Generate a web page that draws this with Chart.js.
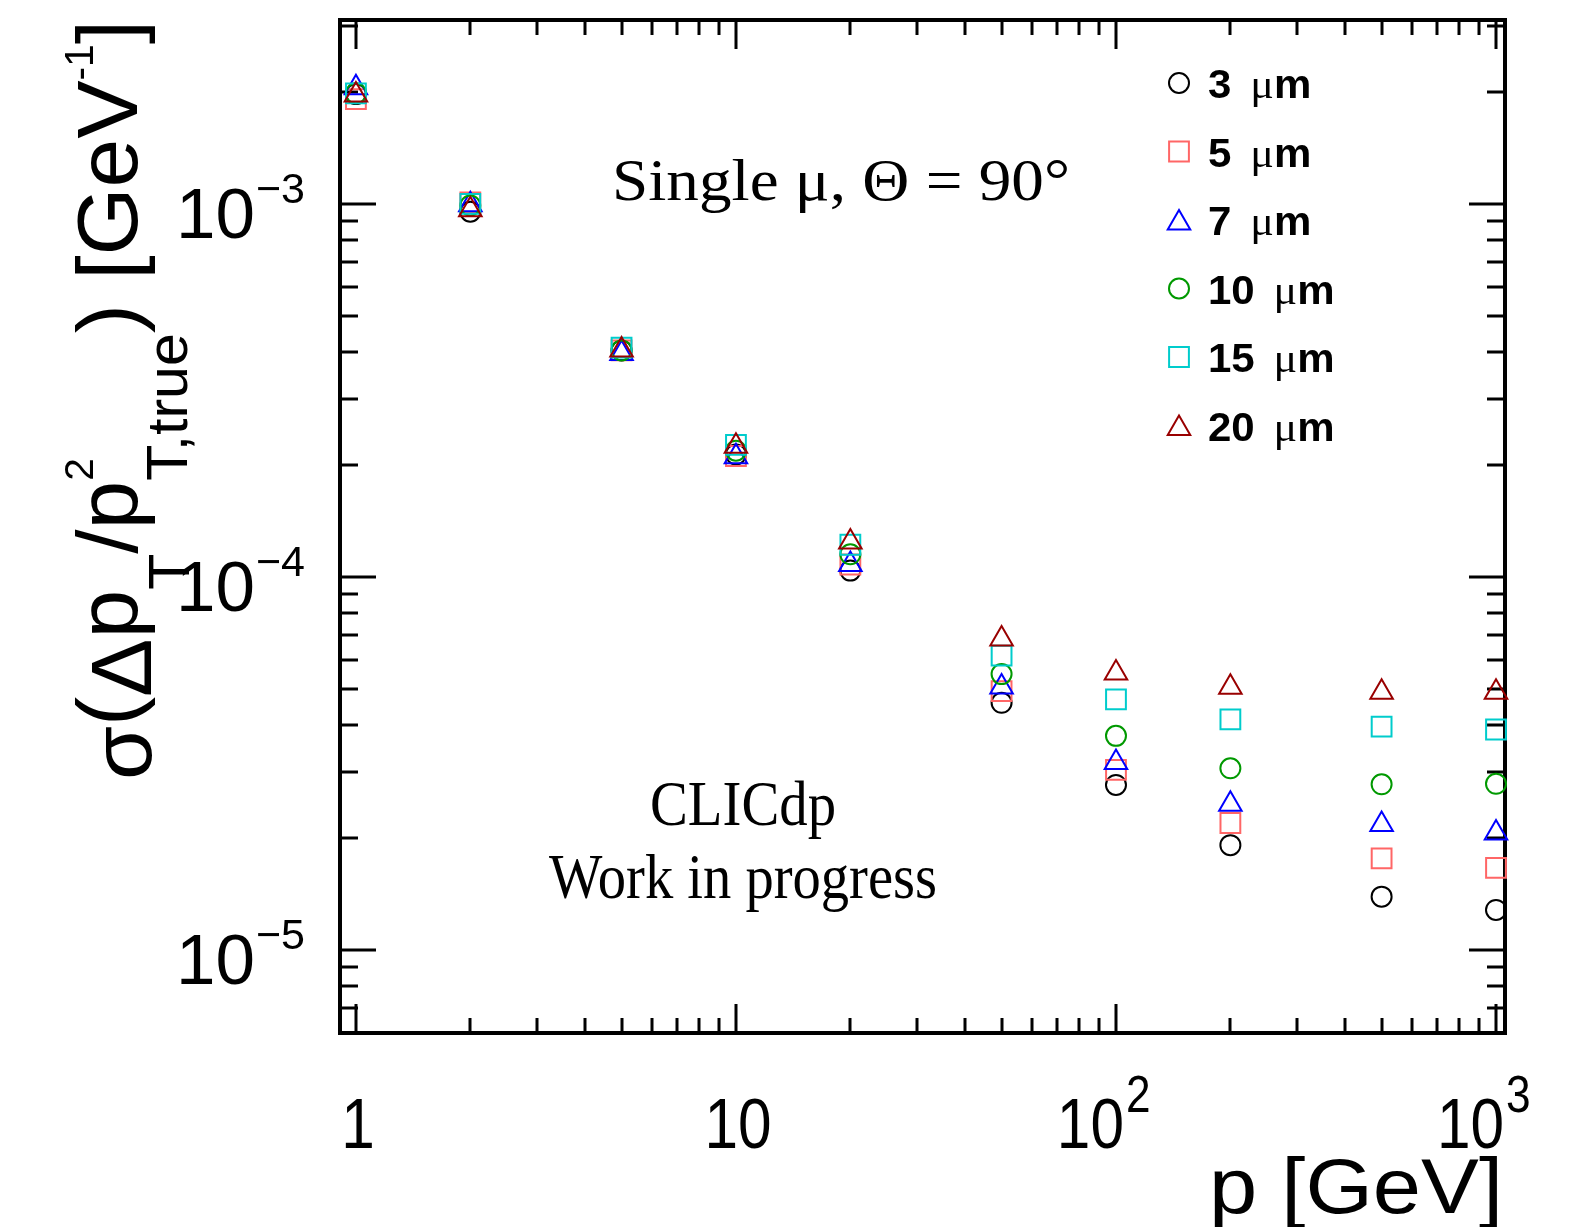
<!DOCTYPE html>
<html>
<head>
<meta charset="utf-8">
<script src="https://cdn.jsdelivr.net/npm/chart.js@4.4.0/dist/chart.umd.min.js"></script>
<style>
  html, body { margin: 0; padding: 0; background: #fff; }
  canvas { display: block; }
</style>
</head>
<body>
<canvas id="resChart" width="1579" height="1227"></canvas>
<script>
// momentum points [GeV]
const momenta = [1, 2, 5, 10, 20, 50, 100, 200, 500, 1000];

// sigma(dpT/pT^2) [1/GeV] per single point resolution
const res3um  = [1.97e-3, 0.953e-3, 4.05e-4, 2.13e-4, 1.04e-4, 4.60e-5, 2.77e-5, 1.91e-5, 1.39e-5, 1.28e-5];
const res5um  = [1.91e-3, 1.01e-3, 4.05e-4, 2.11e-4, 1.08e-4, 4.94e-5, 3.04e-5, 2.19e-5, 1.76e-5, 1.66e-5];
const res7um  = [2.05e-3, 0.995e-3, 3.97e-4, 2.10e-4, 1.08e-4, 5.07e-5, 3.18e-5, 2.46e-5, 2.17e-5, 2.06e-5];
const res10um = [1.98e-3, 0.99e-3, 4.05e-4, 2.18e-4, 1.15e-4, 5.49e-5, 3.75e-5, 3.07e-5, 2.78e-5, 2.79e-5];
const res15um = [1.98e-3, 1.00e-3, 4.12e-4, 2.26e-4, 1.22e-4, 6.15e-5, 4.70e-5, 4.15e-5, 3.97e-5, 3.90e-5];
const res20um = [1.96e-3, 0.965e-3, 4.06e-4, 2.24e-4, 1.24e-4, 6.82e-5, 5.53e-5, 5.06e-5, 4.91e-5, 4.91e-5];

const seriesLabels = ['3', '5', '7', '10', '15', '20'];
const seriesValues = [res3um, res5um, res7um, res10um, res15um, res20um];

// tick labels
const xTickValues = [1, 10, 100, 1000];
const xTickBase = ['1', '10', '10', '10'];
const xTickExp = ['', '', '2', '3'];
const yTickExps = [-3, -4, -5];

const colors = ['#000000', '#ff6666', '#0000ff', '#009900', '#00cccc', '#990000'];
const shapes = ['circle', 'rect', 'triangle', 'circle', 'rect', 'triangle'];
const radii = { circle: 10, rect: 14, triangle: 13 };

const SANS = '"Liberation Sans", Arial, Helvetica, sans-serif';
const SERIF = '"Liberation Serif", "Times New Roman", serif';

function drawFit(ctx, text, x, y, font, width, align) {
  ctx.save();
  ctx.font = font;
  const w = ctx.measureText(text).width;
  ctx.translate(x, y);
  ctx.scale(width / w, 1);
  ctx.textAlign = align;
  ctx.textBaseline = 'alphabetic';
  ctx.fillText(text, 0, 0);
  ctx.restore();
}

function drawScaled(ctx, text, x, y, font, sx, align) {
  ctx.save();
  ctx.font = font;
  ctx.translate(x, y);
  ctx.scale(sx, 1);
  ctx.textAlign = align;
  ctx.textBaseline = 'alphabetic';
  ctx.fillText(text, 0, 0);
  const w = ctx.measureText(text).width * sx;
  ctx.restore();
  return w;
}

const framePlugin = {
  id: 'rootFrame',
  beforeDatasetsDraw(chart) {
    const ctx = chart.ctx;
    const a = chart.chartArea;
    const xs = chart.scales.x, ys = chart.scales.y;
    ctx.save();
    ctx.strokeStyle = '#000';
    ctx.lineWidth = 3;
    ctx.lineCap = 'butt';
    // y ticks on both sides
    for (let k = -6; k <= -2; k++) {
      for (let m = 1; m <= 9; m++) {
        const v = m * Math.pow(10, k);
        if (v < ys.min || v > ys.max) continue;
        const py = Math.round(ys.getPixelForValue(v));
        const len = m === 1 ? 36 : 18;
        ctx.beginPath();
        ctx.moveTo(a.left, py); ctx.lineTo(a.left + len, py);
        ctx.moveTo(a.right, py); ctx.lineTo(a.right - len, py);
        ctx.stroke();
      }
    }
    // x ticks bottom and top
    for (let k = -1; k <= 3; k++) {
      for (let m = 1; m <= 9; m++) {
        const v = m * Math.pow(10, k);
        if (v < xs.min || v > xs.max) continue;
        const px = Math.round(xs.getPixelForValue(v));
        const len = m === 1 ? 29 : 15;
        ctx.beginPath();
        ctx.moveTo(px, a.bottom); ctx.lineTo(px, a.bottom - len);
        ctx.moveTo(px, a.top); ctx.lineTo(px, a.top + len);
        ctx.stroke();
      }
    }
    ctx.lineWidth = 4;
    ctx.strokeRect(a.left, a.top, a.right - a.left, a.bottom - a.top);
    ctx.restore();
  },
  afterDraw(chart) {
    const ctx = chart.ctx;
    const xs = chart.scales.x, ys = chart.scales.y;
    ctx.save();
    ctx.fillStyle = '#000';

    // y tick labels 10^-n
    yTickExps.forEach(e => {
      const py = ys.getPixelForValue(Math.pow(10, e));
      ctx.font = '43px ' + SANS;
      ctx.textAlign = 'right';
      ctx.fillText('\u2212' + (-e), 305, py - 1);
      const supW = ctx.measureText('\u2212' + (-e)).width;
      ctx.font = '71px ' + SANS;
      ctx.fillText('10', 305 - supW - 1, py + 34);
    });

    // x tick labels
    xTickValues.forEach((v, i) => {
      const px = xs.getPixelForValue(v);
      if (xTickExp[i] === '') {
        drawScaled(ctx, xTickBase[i], px + 2, 1148, '71px ' + SANS, 0.85, 'center');
      } else {
        drawScaled(ctx, xTickBase[i], px + 8, 1148, '71px ' + SANS, 0.85, 'right');
        drawScaled(ctx, xTickExp[i], px + 10, 1112, '52px ' + SANS, 0.85, 'left');
      }
    });

    // x title
    drawFit(ctx, 'p [GeV]', 1503, 1213, '78px ' + SANS, 294, 'right');

    // y title, built piece by piece along the rotated baseline
    const MAIN = '86px ' + SANS, SUB = '58px ' + SANS, SUP = '40px ' + SANS;
    const pieces = [
      [{ t: '\u03c3', f: MAIN, dy: 14 }],
      [{ t: '(', f: MAIN, dy: 0 }],
      [{ t: '\u0394', f: MAIN, dy: 14 }],
      [{ t: 'p', f: MAIN, dy: 0 }],
      [{ t: 'T', f: SUB, dy: 52 }],
      [{ t: '/p', f: MAIN, dy: 0 }],
      [{ t: '2', f: SUP, dy: -44 }, { t: 'T,true', f: SUB, dy: 50 }],
      [{ t: ')', f: MAIN, dy: 0 }],
      [{ t: ' [GeV', f: MAIN, dy: 0 }],
      [{ t: '-1', f: SUP, dy: -44 }],
      [{ t: ']', f: MAIN, dy: 0 }]
    ];
    const adv = pieces.map(g => Math.max(...g.map(p => { ctx.font = p.f; return ctx.measureText(p.t).width; })));
    const total = adv.reduce((s, w) => s + w, 0);
    ctx.save();
    ctx.translate(137, 780);
    ctx.rotate(-Math.PI / 2);
    ctx.scale(760 / total, 1);
    ctx.textAlign = 'left';
    let pos = 0;
    pieces.forEach((g, i) => {
      g.forEach(p => { ctx.font = p.f; ctx.fillText(p.t, pos, p.dy); });
      pos += adv[i];
    });
    ctx.restore();

    // annotations
    drawFit(ctx, 'Single \u03bc, \u0398 = 90\u00b0', 612, 200, '60px ' + SERIF, 458, 'left');
    drawFit(ctx, 'CLICdp', 743, 825, '64px ' + SERIF, 186, 'center');
    drawFit(ctx, 'Work in progress', 743, 898, '64px ' + SERIF, 388, 'center');

    // legend
    chart.data.datasets.forEach((ds, i) => {
      const base = 98 + i * 68.5;
      ctx.save();
      ctx.strokeStyle = ds.pointBorderColor;
      ctx.fillStyle = 'rgba(0,0,0,0)';
      ctx.lineWidth = 2;
      Chart.helpers.drawPoint(ctx, {
        pointStyle: ds.pointStyle, radius: ds.pointRadius, rotation: 0, borderWidth: 2
      }, 1179, base - 15 + (ds.pointStyle === 'triangle' ? 3 : 0));
      ctx.restore();
      ctx.save();
      ctx.fillStyle = '#000';
      ctx.translate(1208, base);
      ctx.scale(1.05, 1);
      ctx.textAlign = 'left';
      ctx.font = 'bold 40px ' + SANS;
      ctx.fillText(seriesLabels[i], 0, 0);
      let x = ctx.measureText(seriesLabels[i]).width + 18;
      ctx.font = '42px ' + SERIF;
      ctx.fillText('\u03bc', x, 0);
      x += ctx.measureText('\u03bc').width;
      ctx.font = 'bold 40px ' + SANS;
      ctx.fillText('m', x, 0);
      ctx.restore();
    });
    ctx.restore();
  }
};

const datasets = seriesValues.map((vals, i) => ({
  label: seriesLabels[i] + ' \u03bcm',
  data: momenta.map((p, j) => ({ x: p, y: vals[j] })),
  showLine: false,
  pointStyle: shapes[i],
  pointRadius: radii[shapes[i]],
  pointHoverRadius: radii[shapes[i]],
  pointBorderWidth: 2,
  pointBorderColor: colors[i],
  borderColor: colors[i],
  pointBackgroundColor: 'rgba(0,0,0,0)',
  backgroundColor: 'rgba(0,0,0,0)',
  clip: false,
  order: 5 - i
}));

const ctx = document.getElementById('resChart').getContext('2d');
const resChart = new Chart(ctx, {
  type: 'scatter',
  data: { datasets: datasets },
  options: {
    responsive: false,
    animation: false,
    devicePixelRatio: 1,
    layout: { padding: { left: 340, right: 74, top: 20, bottom: 194 } },
    plugins: {
      legend: { display: false },
      tooltip: { enabled: false }
    },
    scales: {
      x: { type: 'logarithmic', min: 0.908, max: 1056, display: false },
      y: { type: 'logarithmic', min: 5.99e-6, max: 3.113e-3, display: false }
    }
  },
  plugins: [framePlugin]
});
</script>
</body>
</html>
